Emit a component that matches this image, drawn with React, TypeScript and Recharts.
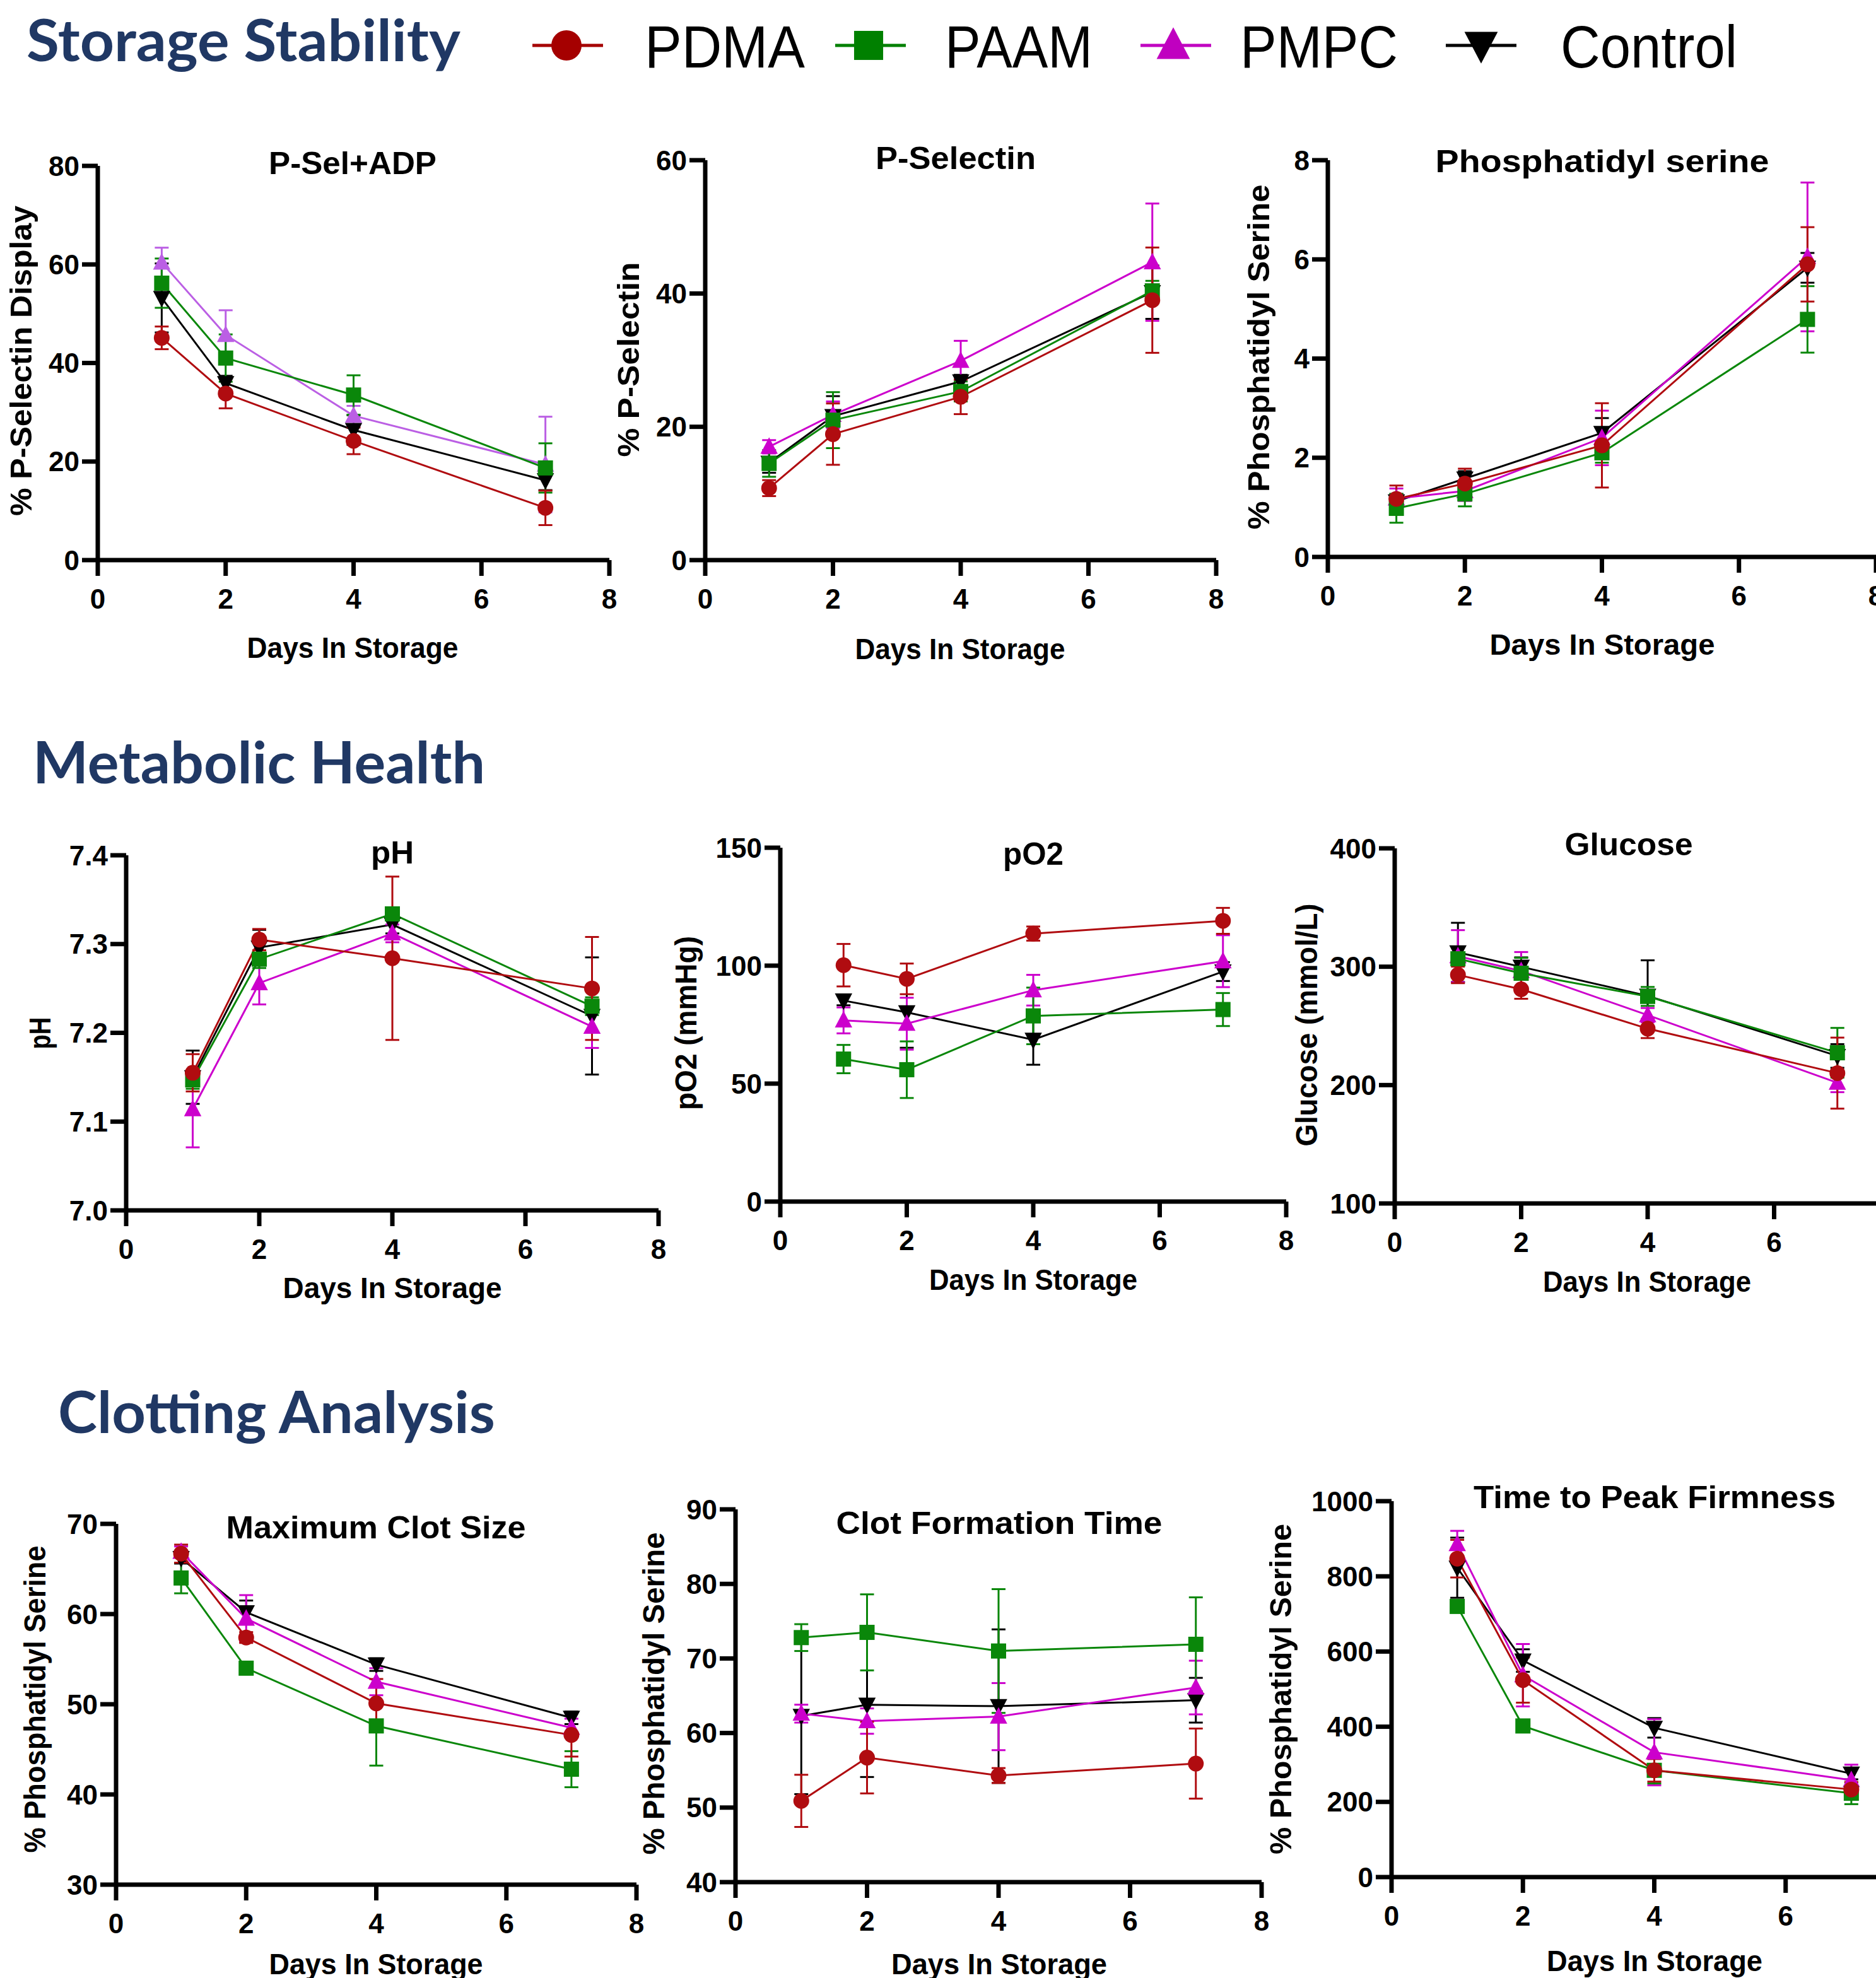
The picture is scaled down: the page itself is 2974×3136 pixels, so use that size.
import React from 'react';
import { LineChart, Line, XAxis, YAxis, ErrorBar } from 'recharts';

// days sampled, shared by every panel
const days = [1, 2, 4, 7];
const dayTicks = [0, 2, 4, 6, 8];
const seriesNames = ['PDMA', 'PAAM', 'PMPC', 'Control'];

// P-Sel+ADP (% P-Selectin Display)
const pSelAdp = { PDMA: [45.1, 33.8, 24.2, 10.6], PAAM: [56.2, 41.0, 33.5, 18.7], PMPC: [60.4, 45.7, 29.3, 19.4], Control: [53.2, 35.9, 26.4, 16.2] };
const pSelAdpErr = { PDMA: [2.3, 3.0, 2.7, 3.5], PAAM: [5.0, 4.8, 4.0, 5.0], PMPC: [3.0, 5.0, 2.0, 9.7], Control: [7.0, 1.5, 3.0, 2.0] };
const pSelAdpTicks = [0, 20, 40, 60, 80];

// P-Selectin
const pSel = { PDMA: [10.8, 18.9, 24.5, 39.0], PAAM: [14.5, 21.0, 25.3, 40.4], PMPC: [17.0, 21.8, 29.9, 44.7], Control: [14.6, 21.6, 26.8, 40.2] };
const pSelErr = { PDMA: [1.2, 4.6, 2.6, 7.9], PAAM: [2.0, 4.2, 1.5, 1.5], PMPC: [1.0, 2.0, 3.0, 8.8], Control: [1.5, 3.0, 1.0, 4.0] };
const pSelTicks = [0, 20, 40, 60];

// Phosphatidyl serine
const ps = { PDMA: [1.17, 1.48, 2.25, 5.9], PAAM: [0.98, 1.27, 2.1, 4.79], PMPC: [1.18, 1.33, 2.4, 6.05], Control: [1.12, 1.58, 2.5, 5.83] };
const psErr = { PDMA: [0.27, 0.3, 0.85, 0.75], PAAM: [0.29, 0.25, 0.2, 0.67], PMPC: [0.2, 0.2, 0.55, 1.5], Control: [0.15, 0.15, 0.3, 0.3] };
const psTicks = [0, 2, 4, 6, 8];

// pH
const ph = { PDMA: [7.155, 7.305, 7.284, 7.25], PAAM: [7.147, 7.283, 7.334, 7.23], PMPC: [7.114, 7.256, 7.312, 7.207], Control: [7.15, 7.296, 7.322, 7.219] };
const phErr = { PDMA: [0.021, 0.012, 0.092, 0.058], PAAM: [0.01, 0.01, 0.006, 0.01], PMPC: [0.043, 0.024, 0.01, 0.024], Control: [0.03, 0.02, 0.01, 0.066] };
const phTicks = [7.0, 7.1, 7.2, 7.3, 7.4];

// pO2 (mmHg)
const po2 = { PDMA: [100.2, 94.4, 113.6, 119.0], PAAM: [60.4, 55.9, 78.7, 81.4], PMPC: [76.8, 75.4, 89.6, 101.9], Control: [85.2, 80.2, 68.6, 97.5] };
const po2Err = { PDMA: [9, 6.5, 3, 5.5], PAAM: [6, 12, 12, 7], PMPC: [5.5, 11, 6.5, 11], Control: [2, 15, 10.6, 4] };
const po2Ticks = [0, 50, 100, 150];

// Glucose (mmol/L)
const glucose = { PDMA: [293.1, 280.9, 247.7, 210.1], PAAM: [306.7, 294.5, 274.9, 227.3], PMPC: [308.9, 296.4, 259.1, 202], Control: [312.1, 299.9, 275.4, 224.6] };
const glucoseErr = { PDMA: [7, 8, 8, 30], PAAM: [5, 13, 8, 21], PMPC: [22, 16, 6, 8], Control: [25, 8, 30, 10] };
const glucoseTicks = [100, 200, 300, 400];

// Maximum Clot Size
const mcs = { PDMA: [66.7, 57.4, 50.1, 46.6], PAAM: [64.0, 54.0, 47.6, 42.8], PMPC: [66.9, 59.5, 52.5, 47.4], Control: [66.2, 60.2, 54.4, 48.5] };
const mcsErr = { PDMA: [1, 0.6, 2.7, 2.4], PAAM: [1.7, 0.5, 4.4, 2.0], PMPC: [0.6, 2.6, 1.5, 1.0], Control: [0.6, 1.3, 0.7, 0.7] };
const mcsTicks = [30, 40, 50, 60, 70];

// Clot Formation Time
const cft = { PDMA: [50.9, 56.7, 54.3, 55.9], PAAM: [72.8, 73.5, 71.0, 71.9], PMPC: [62.6, 61.6, 62.2, 66.1], Control: [62.3, 63.8, 63.6, 64.4] };
const cftErr = { PDMA: [3.5, 4.8, 1.0, 4.7], PAAM: [1.8, 5.1, 8.3, 6.3], PMPC: [1.2, 1.7, 4.5, 3.6], Control: [10.5, 9.7, 10.3, 3.0] };
const cftTicks = [40, 50, 60, 70, 80, 90];

// Time to Peak Firmness
const tpf = { PDMA: [847, 524, 284, 233], PAAM: [720, 402, 284, 223], PMPC: [886, 537, 332, 258], Control: [823, 576, 397, 275] };
const tpfErr = { PDMA: [50, 60, 30, 20], PAAM: [15, 10, 35, 29], PMPC: [35, 83, 88, 41], Control: [80, 30, 26, 15] };
const tpfTicks = [0, 200, 400, 600, 800, 1000];

const colors: Record<string, string> = { PDMA: '#b00c10', PAAM: '#0a870a', PMPC: '#cc00cc', Control: '#000000' };
const shapes: Record<string, string> = { PDMA: 'circle', PAAM: 'square', PMPC: 'triangle', Control: 'triangleDown' };
const drawOrder = ['Control', 'PMPC', 'PAAM', 'PDMA'];

const ARIAL = '"Liberation Sans", Arial, sans-serif';
const HEAD = 'Lato, "Open Sans", sans-serif';

// plot area corners in page pixels: x0 = day 0, x8 = day 8, yTop/yBot = ends of the y domain
const panels = [
  { id: 'psa', mean: pSelAdp, err: pSelAdpErr, ticks: pSelAdpTicks, x0: 155, x8: 966, yTop: 263, yBot: 888, pmpc: '#bb5fe4' },
  { id: 'ps', mean: pSel, err: pSelErr, ticks: pSelTicks, x0: 1118, x8: 1928, yTop: 254, yBot: 888 },
  { id: 'phs', mean: ps, err: psErr, ticks: psTicks, x0: 2105, x8: 2974, yTop: 254, yBot: 883 },
  { id: 'ph', mean: ph, err: phErr, ticks: phTicks, x0: 200, x8: 1044, yTop: 1356, yBot: 1919, fmt: (v: number) => v.toFixed(1) },
  { id: 'po2', mean: po2, err: po2Err, ticks: po2Ticks, x0: 1237, x8: 2039, yTop: 1344, yBot: 1905 },
  { id: 'glu', mean: glucose, err: glucoseErr, ticks: glucoseTicks, x0: 2211, x8: 3013, yTop: 1345, yBot: 1908 },
  { id: 'mcs', mean: mcs, err: mcsErr, ticks: mcsTicks, x0: 184, x8: 1009, yTop: 2416, yBot: 2988 },
  { id: 'cft', mean: cft, err: cftErr, ticks: cftTicks, x0: 1166, x8: 2000, yTop: 2393, yBot: 2984 },
  { id: 'tpf', mean: tpf, err: tpfErr, ticks: tpfTicks, x0: 2206, x8: 3039, yTop: 2380, yBot: 2976 },
];

// titles: centre x, baseline, width
const titles = [
  { t: 'P-Sel+ADP', x: 559, y: 276, w: 266 },
  { t: 'P-Selectin', x: 1515, y: 268, w: 254 },
  { t: 'Phosphatidyl serine', x: 2540, y: 273, w: 529 },
  { t: 'pH', x: 622, y: 1369, w: 68 },
  { t: 'pO2', x: 1638, y: 1371, w: 96 },
  { t: 'Glucose', x: 2582, y: 1356, w: 203 },
  { t: 'Maximum Clot Size', x: 596, y: 2439, w: 475 },
  { t: 'Clot Formation Time', x: 1584, y: 2432, w: 517 },
  { t: 'Time to Peak Firmness', x: 2623, y: 2391, w: 574 },
];

const xLabels = [
  { x: 559, y: 1043, w: 335 },
  { x: 1522, y: 1045, w: 333 },
  { x: 2540, y: 1038, w: 357 },
  { x: 622, y: 2058, w: 347 },
  { x: 1638, y: 2045, w: 330 },
  { x: 2611, y: 2048, w: 330 },
  { x: 596, y: 3130, w: 339 },
  { x: 1584, y: 3130, w: 342 },
  { x: 2623, y: 3125, w: 342 },
];

// rotated y labels: baseline x, centre y, length
const yLabels = [
  { t: '% P-Selectin Display', x: 50, y: 572, w: 492 },
  { t: '% P-Selectin', x: 1013, y: 570, w: 309 },
  { t: '% Phosphatidyl Serine', x: 2012, y: 566, w: 547 },
  { t: 'pH', x: 80, y: 1638, w: 51 },
  { t: 'pO2 (mmHg)', x: 1104, y: 1622, w: 276 },
  { t: 'Glucose (mmol/L)', x: 2088, y: 1625, w: 385 },
  { t: '% Phosphatidyl Serine', x: 72, y: 2694, w: 487 },
  { t: '% Phosphatidyl Serine', x: 1053, y: 2685, w: 511 },
  { t: '% Phosphatidyl Serine', x: 2047, y: 2678, w: 524 },
];

const legendItems = [
  { name: 'PDMA', lx: 844, mx: 898, tx: 1022, tw: 254, color: '#a50000' },
  { name: 'PAAM', lx: 1324, mx: 1377, tx: 1498, tw: 234, color: '#008000' },
  { name: 'PMPC', lx: 1808, mx: 1860, tx: 1966, tw: 250, color: '#c000c0' },
  { name: 'Control', lx: 2292, mx: 2348, tx: 2474, tw: 280, color: '#000000' },
];

function shapeEl(shape: string, cx: number, cy: number, s: number, fill: string, key?: string) {
  if (shape === 'circle') return <circle key={key} cx={cx} cy={cy} r={s * 0.5} fill={fill} />;
  if (shape === 'square') return <rect key={key} x={cx - s * 0.48} y={cy - s * 0.48} width={s * 0.96} height={s * 0.96} fill={fill} />;
  if (shape === 'triangle')
    return <polygon key={key} points={`${cx},${cy - s * 0.6} ${cx - s * 0.55},${cy + s * 0.45} ${cx + s * 0.55},${cy + s * 0.45}`} fill={fill} />;
  return <polygon key={key} points={`${cx - s * 0.55},${cy - s * 0.45} ${cx + s * 0.55},${cy - s * 0.45} ${cx},${cy + s * 0.6}`} fill={fill} />;
}

const tickStyle = { fill: '#000', fontSize: 44, fontWeight: 700, fontFamily: ARIAL };
const axisStroke = { stroke: '#000', strokeWidth: 7 };

function Panel({ p }: { p: any }) {
  const AXW = 150, MT = 40, MR = 40, XAH = 110;
  const w = p.x8 - p.x0 + AXW + MR;
  const h = p.yBot - p.yTop + MT + XAH;
  const ticks: number[] = p.ticks;
  return (
    <div style={{ position: 'absolute', left: p.x0 - AXW, top: p.yTop - MT }}>
      <LineChart width={w} height={h} margin={{ top: MT, right: MR, bottom: 0, left: 0 }}>
        <XAxis
          type="number"
          dataKey="day"
          domain={[0, 8]}
          ticks={dayTicks}
          interval={0}
          allowDataOverflow
          height={XAH}
          axisLine={axisStroke}
          tickLine={axisStroke}
          tickSize={25}
          tickMargin={21}
          tick={tickStyle}
        />
        <YAxis
          type="number"
          domain={[ticks[0], ticks[ticks.length - 1]]}
          ticks={ticks}
          interval={0}
          allowDataOverflow
          width={AXW}
          axisLine={axisStroke}
          tickLine={axisStroke}
          tickSize={25}
          tickMargin={4}
          tick={tickStyle}
          tickFormatter={p.fmt}
        />
        {drawOrder.map((name) => {
          const color = name === 'PMPC' && p.pmpc ? p.pmpc : colors[name];
          const rows = days.map((d, i) => ({ day: d, v: p.mean[name][i], e: p.err[name][i] }));
          return (
            <Line
              key={name}
              data={rows}
              dataKey="v"
              type="linear"
              stroke={color}
              strokeWidth={3}
              isAnimationActive={false}
              activeDot={false}
              dot={(d: any) => shapeEl(shapes[name], d.cx, d.cy, 25, color, `${p.id}-${name}-${d.index}`)}
            >
              <ErrorBar dataKey="e" direction="y" width={11} stroke={color} strokeWidth={3} />
            </Line>
          );
        })}
      </LineChart>
    </div>
  );
}

export default function App() {
  return (
    <div style={{ position: 'absolute', left: 0, top: 0, width: 2974, height: 3136, overflow: 'hidden', background: '#fff' }}>
      {panels.map((p) => (
        <Panel key={p.id} p={p} />
      ))}
      <svg width={2974} height={3136} style={{ position: 'absolute', left: 0, top: 0, pointerEvents: 'none' }}>
        {/* section headers */}
        <text x={42} y={97} fontFamily={HEAD} fontWeight={700} fontSize={92} fill="#203864" textLength={688} lengthAdjust="spacingAndGlyphs">Storage Stability</text>
        <text x={52} y={1242} fontFamily={HEAD} fontWeight={700} fontSize={92} fill="#203864" textLength={717} lengthAdjust="spacingAndGlyphs">Metabolic Health</text>
        <text x={92} y={2272} fontFamily={HEAD} fontWeight={700} fontSize={92} fill="#203864" textLength={693} lengthAdjust="spacingAndGlyphs">Clotting Analysis</text>

        {/* legend */}
        {legendItems.map((l) => (
          <g key={l.name}>
            <line x1={l.lx} x2={l.lx + 112} y1={72} y2={72} stroke={l.color} strokeWidth={5} />
            {shapeEl(shapes[l.name], l.mx, 72, 48, l.color)}
            <text x={l.tx} y={107} fontFamily={ARIAL} fontSize={95} fill="#000" textLength={l.tw} lengthAdjust="spacingAndGlyphs">{l.name}</text>
          </g>
        ))}

        {titles.map((t) => (
          <text key={t.t} x={t.x} y={t.y} textAnchor="middle" fontFamily={ARIAL} fontWeight={700} fontSize={50} fill="#000" textLength={t.w} lengthAdjust="spacingAndGlyphs">{t.t}</text>
        ))}
        {xLabels.map((t, i) => (
          <text key={i} x={t.x} y={t.y} textAnchor="middle" fontFamily={ARIAL} fontWeight={700} fontSize={46} fill="#000" textLength={t.w} lengthAdjust="spacingAndGlyphs">Days In Storage</text>
        ))}
        {yLabels.map((t, i) => (
          <text key={i} transform={`translate(${t.x},${t.y}) rotate(-90)`} textAnchor="middle" fontFamily={ARIAL} fontWeight={700} fontSize={48} fill="#000" textLength={t.w} lengthAdjust="spacingAndGlyphs">{t.t}</text>
        ))}
      </svg>
    </div>
  );
}
